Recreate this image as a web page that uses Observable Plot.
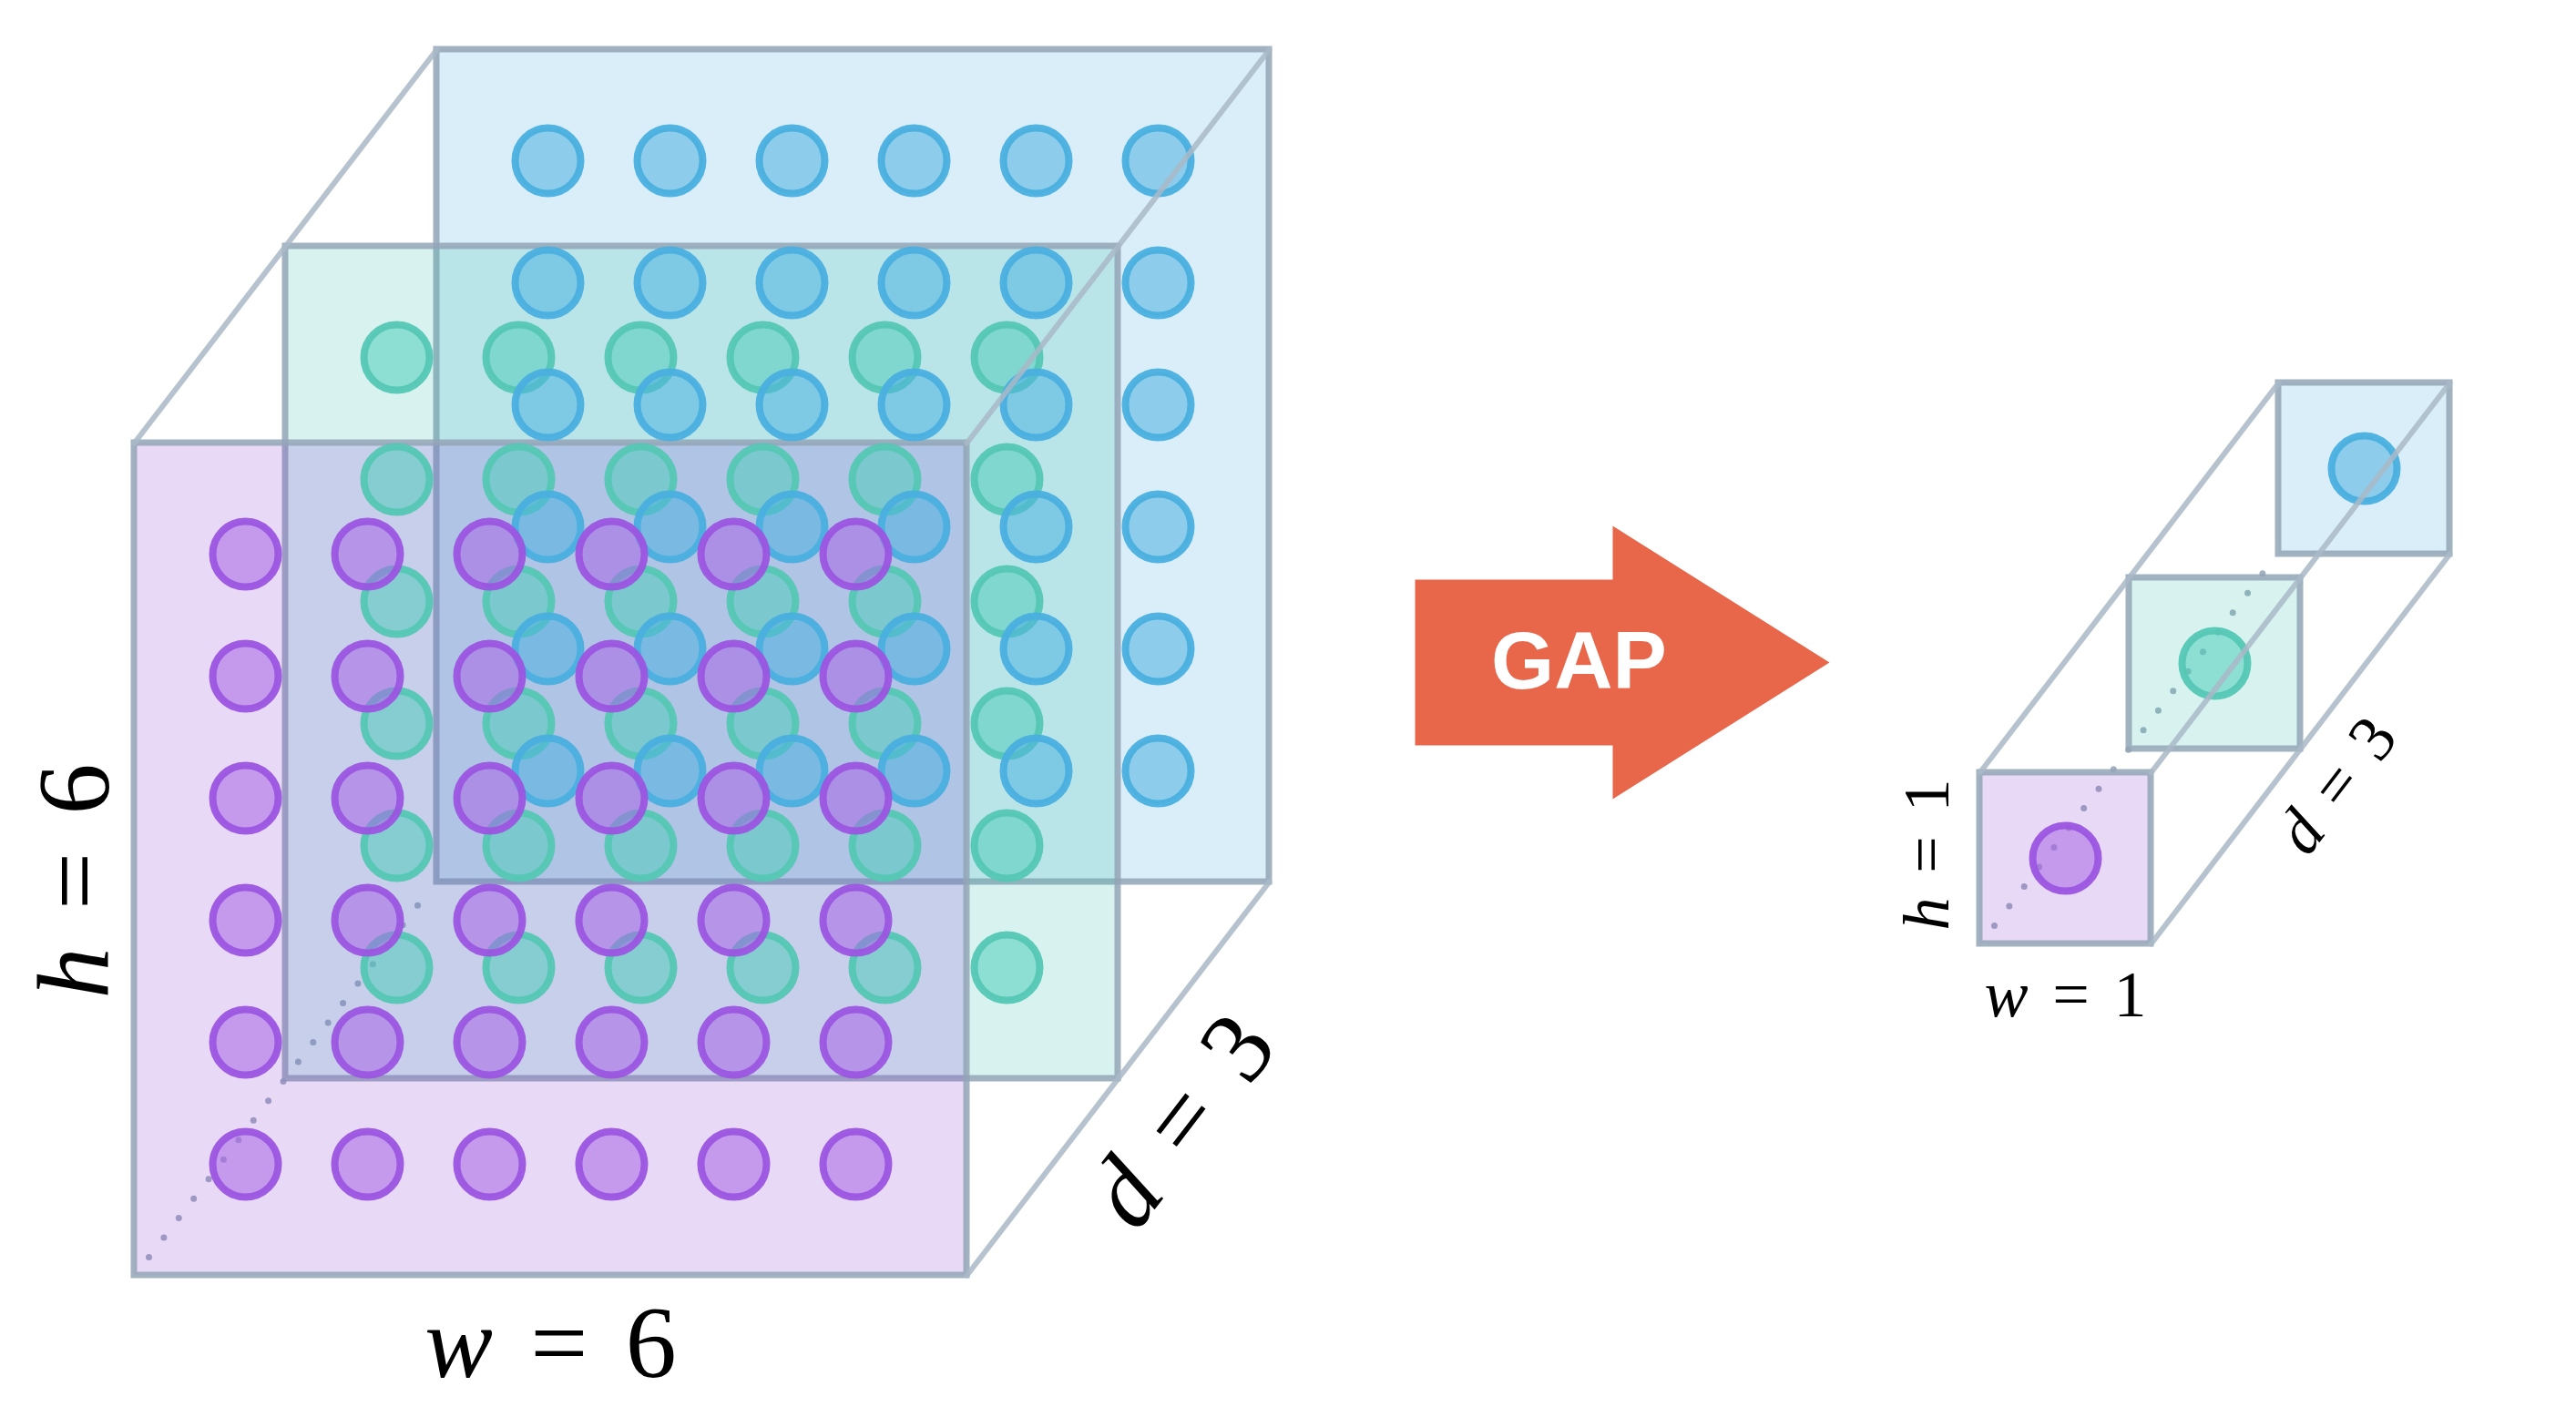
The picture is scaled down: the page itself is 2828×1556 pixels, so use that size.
<!DOCTYPE html>
<html>
<head>
<meta charset="utf-8">
<script src="https://cdn.jsdelivr.net/npm/d3@7"></script>
<script src="https://cdn.jsdelivr.net/npm/@observablehq/plot@0.6"></script>
<style>
  html, body { margin: 0; padding: 0; background: #ffffff; }
  #chart { width: 2828px; height: 1556px; }
  .mathlabel, .mathlabel tspan { font-family: "Liberation Serif", "DejaVu Serif", serif !important; }
</style>
</head>
<body>
<div id="chart"></div>
<script>
// ---------------- data ----------------
const channelNames = ["purple", "teal", "blue"];   // depth 0 = front
const inputSize = [6, 6, 3];                        // w, h, d
const pooledSize = [1, 1, 3];                       // w, h, d
const inputLabels = ["w = 6", "h = 6", "d = 3"];
const pooledLabels = ["w = 1", "h = 1", "d = 3"];
const arrowText = "GAP";

// ---------------- styles / layout ----------------
const W = 2828, H = 1556;
const faceColor = {purple: "#8A3FD9", teal: "#3CC2AE", blue: "#3FAADC"};
const dotFill = {purple: "#A866E5", teal: "#51CCBC", blue: "#4EB3E0"};
const dotStroke = {purple: "#9B55E0", teal: "#55C7B4", blue: "#4AAFDF"};
const depthStep = {dx: 166, dy: -216};
const bigCube = {x: 147, y: 486, size: 914, pad: 122, shape: inputSize, font: 112,
  labels: inputLabels, wOff: 76, hOff: -64, hShift: 24, dOff: [70, 46]};
const smallCube = {x: 2173, y: 848, size: 188, pad: 94, shape: pooledSize, font: 72,
  labels: pooledLabels, wOff: 56, hOff: -58, hShift: -4, dOff: [40, 40]};
const smallStep = {dx: 164, dy: -214};
const arrow = {x0: 1553, xh: 1770, xt: 2008, yc: 727, body: 91, head: 150};

function faces(c, st) {
  return d3.range(c.shape[2]).map(k => ({
    layer: channelNames[k], k,
    x1: c.x + k * st.dx, x2: c.x + k * st.dx + c.size,
    y1: c.y + k * st.dy, y2: c.y + k * st.dy + c.size
  }));
}
function circles(c, st, k) {
  const pos = n => n === 1 ? [c.size / 2] : d3.range(n).map(i => c.pad + i * (c.size - 2 * c.pad) / (n - 1));
  const out = [];
  for (const px of pos(c.shape[0])) for (const py of pos(c.shape[1]))
    out.push({x: c.x + k * st.dx + px, y: c.y + k * st.dy + py});
  return out;
}
function edges(c, st) {
  const D = c.shape[2] - 1;
  const ex = D * st.dx, ey = D * st.dy;
  const corners = [[c.x, c.y], [c.x + c.size, c.y], [c.x + c.size, c.y + c.size]];
  return corners.flatMap(([x, y], i) => [{e: i, x, y}, {e: i, x: x + ex, y: y + ey}]);
}
function hidden(c, st) {
  const D = c.shape[2] - 1;
  const x = c.x, y = c.y + c.size;
  return [{x: x + 16, y: y - 20}, {x: x + D * st.dx - 12, y: y + D * st.dy + 14}];
}
function labelData(c, st) {
  const D = c.shape[2] - 1;
  const mx = c.x + c.size + D * st.dx / 2, my = c.y + c.size + D * st.dy / 2;
  return [
    {t: c.labels[0], x: c.x + c.size / 2, y: c.y + c.size + c.wOff, r: 0},
    {t: c.labels[1], x: c.x + c.hOff, y: c.y + c.size / 2 + c.hShift, r: -90},
    {t: c.labels[2], x: mx + c.dOff[0], y: my + c.dOff[1], r: Math.atan2(st.dy, st.dx) * 180 / Math.PI}
  ];
}

const marks = [];
for (const [c, st] of [[bigCube, depthStep], [smallCube, smallStep]]) {
  marks.push(Plot.line(hidden(c, st), {x: "x", y: "y", stroke: "#A3B0BF", strokeWidth: 7,
    strokeDasharray: "0 27", strokeLinecap: "round"}));
  for (const f of faces(c, st).reverse()) {
    marks.push(Plot.rect([f], {x1: "x1", x2: "x2", y1: "y1", y2: "y2",
      fill: faceColor[f.layer], fillOpacity: 0.2,
      stroke: "#93A4B6", strokeOpacity: 0.85, strokeWidth: 7}));
  }
  for (const k of [1, 2, 0]) {
    if (k >= c.shape[2]) continue;
    const nm = channelNames[k];
    marks.push(Plot.dot(circles(c, st, k), {x: "x", y: "y", r: 36,
      fill: dotFill[nm], fillOpacity: 0.55, stroke: dotStroke[nm], strokeWidth: 8, strokeOpacity: 0.95}));
  }
  marks.push(Plot.line(edges(c, st), {x: "x", y: "y", z: "e", stroke: "#A9B8C7",
    strokeOpacity: 0.85, strokeWidth: 6}));
  for (const l of labelData(c, st)) {
    marks.push(Plot.text([l], {x: "x", y: "y", text: "t", rotate: l.r,
      fontSize: c.font, fontFamily: "Liberation Serif", fill: "#000", textAnchor: "middle", lineAnchor: "middle"}));
  }
}
// GAP arrow
const arrowPts = [
  {x: arrow.x0, y: arrow.yc - arrow.body}, {x: arrow.xh, y: arrow.yc - arrow.body},
  {x: arrow.xh, y: arrow.yc - arrow.head}, {x: arrow.xt, y: arrow.yc},
  {x: arrow.xh, y: arrow.yc + arrow.head}, {x: arrow.xh, y: arrow.yc + arrow.body},
  {x: arrow.x0, y: arrow.yc + arrow.body}
];
marks.push(Plot.line(arrowPts, {x: "x", y: "y", fill: "#E8674B", stroke: "none", curve: "linear-closed"}));
marks.push(Plot.text([{t: arrowText}], {x: () => 1733, y: () => arrow.yc, text: "t", fill: "#ffffff",
  fontSize: 89, fontWeight: "bold", fontFamily: "Liberation Sans", textAnchor: "middle", lineAnchor: "middle"}));

const chart = Plot.plot({
  width: W, height: H, margin: 0,
  x: {domain: [0, W], range: [0, W], axis: null},
  y: {domain: [0, H], range: [0, H], axis: null},
  style: {background: "#ffffff"},
  marks
});

// math styling: italic variable, upright "= n"
chart.querySelectorAll("text").forEach(t => {
  const s = t.textContent;
  const m = s.match(/^([whd]) = (\d)$/);
  if (!m) return;
  t.textContent = "";
  t.setAttribute("class", "mathlabel");
  const ns = "http://www.w3.org/2000/svg";
  const a = document.createElementNS(ns, "tspan");
  a.setAttribute("font-style", "italic");
  a.textContent = m[1];
  const b = document.createElementNS(ns, "tspan");
  b.textContent = " = " + m[2];
  b.setAttribute("word-spacing", "0.12em");
  t.appendChild(a); t.appendChild(b);
});
document.getElementById("chart").appendChild(chart);
</script>
</body>
</html>
